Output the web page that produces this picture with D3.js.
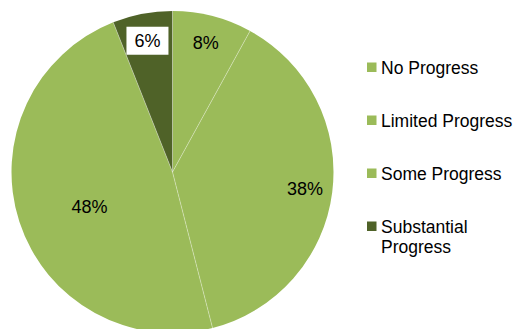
<!DOCTYPE html>
<html>
<head>
<meta charset="utf-8">
<script src="https://cdn.jsdelivr.net/npm/d3@7"></script>
<style>
  html, body { margin: 0; padding: 0; background: #ffffff; }
  svg { display: block; font-family: "Liberation Sans", Arial, sans-serif; }
</style>
</head>
<body>
<svg id="chart" width="517" height="329"></svg>
<script>
// Progress categories and their shares (percent)
const categories = ["No Progress", "Limited Progress", "Some Progress", "Substantial Progress"];
const shares = [8, 38, 48, 6];
const sliceColors = ["#9bbb59", "#9bbb59", "#9bbb59", "#4f6228"];
// Legend text is wrapped onto lines as in the chart legend
const legendLines = [["No Progress"], ["Limited Progress"], ["Some Progress"], ["Substantial", "Progress"]];

const svg = d3.select("#chart");
const cx = 172.5, cy = 172, radius = 161;

const data = categories.map((c, i) => ({ category: c, value: shares[i], color: sliceColors[i] }));

const pie = d3.pie().value(d => d.value).sort(null);
const arcs = pie(data);
const maxShare = d3.max(shares);

const arc = d3.arc().innerRadius(0).outerRadius(radius);

// label anchor: outer slices near the rim, the largest slice pulled inward
function labelPos(d) {
  const big = d.data.value === maxShare;
  const r = radius * (big ? 0.56 : 0.83);
  const a = (d.startAngle + d.endAngle) / 2 - (big ? 0.085 : 0);
  return [Math.sin(a) * r, -Math.cos(a) * r];
}

const g = svg.append("g").attr("transform", `translate(${cx},${cy})`);

g.selectAll("path.slice")
  .data(arcs)
  .join("path")
  .attr("class", "slice")
  .attr("d", arc)
  .attr("fill", d => d.data.color);

// thin light separators between slices
g.selectAll("path.sep")
  .data(arcs)
  .join("path")
  .attr("class", "sep")
  .attr("d", d => {
    const a = d.startAngle;
    return `M0,0L${Math.sin(a) * radius},${-Math.cos(a) * radius}`;
  })
  .attr("stroke", "#ffffff")
  .attr("stroke-opacity", 0.45)
  .attr("stroke-width", 0.8);

const labels = g.selectAll("g.label")
  .data(arcs)
  .join("g")
  .attr("class", "label")
  .attr("transform", d => {
    const p = labelPos(d);
    return `translate(${p[0]},${p[1]})`;
  });

labels.filter(d => d.data.color === "#4f6228")
  .append("rect")
  .attr("x", -21).attr("y", -14)
  .attr("width", 42).attr("height", 28)
  .attr("fill", "#ffffff");

labels.append("text")
  .attr("text-anchor", "middle")
  .attr("dy", "0.35em")
  .attr("font-size", 18)
  .attr("fill", "#000000")
  .text(d => d.data.value + "%");

// legend
const legendY = d3.scalePoint().domain(categories).range([68, 227]);
const legend = svg.append("g");
categories.forEach((c, i) => {
  const y = legendY(c);
  legend.append("rect")
    .attr("x", 367).attr("y", y - 5.5)
    .attr("width", 9.5).attr("height", 9.5)
    .attr("fill", sliceColors[i]);
  const t = legend.append("text")
    .attr("x", 381).attr("y", y)
    .attr("font-size", 17.5)
    .attr("fill", "#000000");
  legendLines[i].forEach((line, j) => {
    t.append("tspan")
      .attr("x", 381)
      .attr("dy", j === 0 ? "0.33em" : "1.15em")
      .text(line);
  });
});
</script>
</body>
</html>
